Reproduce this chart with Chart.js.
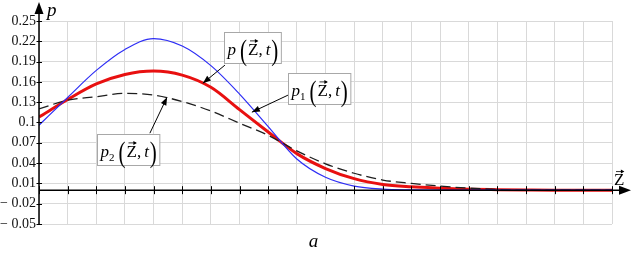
<!DOCTYPE html>
<html>
<head>
<meta charset="utf-8">
<script src="https://cdn.jsdelivr.net/npm/chart.js@4.4.1/dist/chart.umd.min.js"></script>
<style>
    html, body { margin: 0; padding: 0; background: #fff; }
    #wrap { width: 632px; height: 259px; }
</style>
</head>
<body>
<div id="wrap"><canvas id="chart" width="632" height="259"></canvas></div>
<script>
const zValues = [0, 1, 2, 3, 4, 5, 6, 7, 8, 9, 10, 11, 12, 13, 14, 15, 16, 17, 18, 19, 20];
const pValues = [0.108, 0.134, 0.157, 0.171, 0.176, 0.170, 0.152, 0.119, 0.086, 0.054, 0.032, 0.017, 0.0085, 0.005, 0.003, 0.0015, 0.0008, 0.0003, 0, 0, 0];
const p1Values = [0.096, 0.137, 0.177, 0.208, 0.224, 0.213, 0.184, 0.142, 0.094, 0.046, 0.019, 0.006, 0.0015, 0.0004, 0, 0, 0, 0, 0, 0, 0];
const p2Values = [0.120, 0.133, 0.138, 0.143, 0.1405, 0.131, 0.117, 0.099, 0.081, 0.058, 0.039, 0.025, 0.015, 0.010, 0.006, 0.003, 0.001, 0, 0, 0, 0];
const yTicks = [-0.05, -0.02, 0.01, 0.04, 0.07, 0.1, 0.13, 0.16, 0.19, 0.22, 0.25];
const yTickLabels = ['\u2212 0.05', '\u2212 0.02', '0.01', '0.04', '0.07', '0.1', '0.13', '0.16', '0.19', '0.22', '0.25'];

// call-out boxes: top-left corner, arrow start and arrow tip, in data units
const notes = [
    { sub: '', box: [6.46, 0.2335], from: [6.49, 0.1848], to: [5.72, 0.158] },
    { sub: '1', box: [8.69, 0.1729], from: [8.69, 0.1404], to: [7.43, 0.1153] },
    { sub: '2', box: [2.02, 0.0828], from: [3.87, 0.0842], to: [4.47, 0.1374] }
];

const SERIF = "'Liberation Serif', 'DejaVu Serif', serif";

function toPoints(values) {
    return zValues.map((z, i) => ({ x: z, y: values[i] }));
}

function arrowHead(ctx, fx, fy, tx, ty, len, half) {
    const a = Math.atan2(ty - fy, tx - fx);
    ctx.beginPath();
    ctx.moveTo(tx, ty);
    ctx.lineTo(tx - len * Math.cos(a) + half * Math.sin(a), ty - len * Math.sin(a) - half * Math.cos(a));
    ctx.lineTo(tx - len * Math.cos(a) - half * Math.sin(a), ty - len * Math.sin(a) + half * Math.cos(a));
    ctx.closePath();
    ctx.fill();
}

function vecZ(ctx, x, base, size, draw) {
    ctx.font = `${size}px ${SERIF}`;
    const w = ctx.measureText('Z').width;
    if (draw) {
        ctx.fillText('Z', x, base);
        const y = base - size * 0.8;
        ctx.lineWidth = 0.8;
        ctx.beginPath();
        ctx.moveTo(x + 2, y);
        ctx.lineTo(x + w - 1, y);
        ctx.stroke();
        arrowHead(ctx, x, y, x + w, y, 3.5, 2);
    }
    return w;
}

// tall thin bracket, like a LaTeX \left( \right)
function bracket(ctx, ch, x, base, draw) {
    ctx.font = `21px ${SERIF}`;
    const w = ctx.measureText(ch).width;
    if (draw) {
        ctx.save();
        ctx.translate(x, base + 5);
        ctx.scale(1, 1.45);
        ctx.fillText(ch, 0, 0);
        ctx.restore();
    }
    return w;
}

// p_k ( Z, t ) ; returns the width
function formula(ctx, x, base, sub, draw) {
    let cx = x;
    const put = (txt, font, dy) => {
        ctx.font = font;
        if (draw) ctx.fillText(txt, cx, base + (dy || 0));
        cx += ctx.measureText(txt).width;
    };
    put('p', `italic 17px ${SERIF}`);
    if (sub) put(sub, `11px ${SERIF}`, 4);
    cx += 4;
    cx += bracket(ctx, '(', cx, base, draw) + 1;
    cx += vecZ(ctx, cx, base, 17, draw);
    put(',', `17px ${SERIF}`);
    cx += 3;
    put('t', `italic 17px ${SERIF}`);
    cx += 1;
    cx += bracket(ctx, ')', cx, base, draw);
    return cx - x;
}

const decorPlugin = {
    id: 'decor',
    afterDatasetsDraw(chart) {
        const ctx = chart.ctx;
        const xs = chart.scales.x;
        const ys = chart.scales.y;
        const x0 = xs.getPixelForValue(0);
        const y0 = ys.getPixelForValue(0);
        const area = chart.chartArea;

        ctx.save();
        ctx.strokeStyle = '#000';
        ctx.fillStyle = '#000';

        // axes with arrows
        ctx.lineWidth = 1.5;
        ctx.beginPath();
        ctx.moveTo(x0, area.bottom);
        ctx.lineTo(x0, 8);
        ctx.moveTo(x0, y0);
        ctx.lineTo(chart.width - 8, y0);
        ctx.stroke();
        arrowHead(ctx, x0, area.bottom, x0, 2, 12, 4.5);
        arrowHead(ctx, x0, y0, chart.width - 1, y0, 12, 4.5);

        ctx.lineWidth = 1;
        ctx.beginPath();
        zValues.forEach(z => {
            const px = Math.round(xs.getPixelForValue(z)) + 0.5;
            ctx.moveTo(px, y0 - 4);
            ctx.lineTo(px, y0 + 4);
        });
        yTicks.forEach(v => {
            const py = Math.round(ys.getPixelForValue(v)) + 0.5;
            ctx.moveTo(x0 - 2.5, py);
            ctx.lineTo(x0 + 3, py);
        });
        ctx.stroke();

        // axis names
        ctx.textAlign = 'left';
        ctx.textBaseline = 'alphabetic';
        ctx.font = `italic 19px ${SERIF}`;
        ctx.fillText('p', x0 + 8, 16);
        vecZ(ctx, area.right + 2, y0 - 5, 17, true);
        ctx.textAlign = 'center';
        ctx.font = `italic 19px ${SERIF}`;
        ctx.fillText('a', (area.left + area.right) / 2 - 12, 247);

        // call-outs
        ctx.textAlign = 'left';
        notes.forEach(n => {
            const bx = Math.round(xs.getPixelForValue(n.box[0])) + 0.5;
            const by = Math.round(ys.getPixelForValue(n.box[1])) + 0.5;
            const w = formula(ctx, 0, 0, n.sub, false) + 6;
            const h = 31;

            ctx.lineWidth = 1;
            ctx.strokeStyle = '#000';
            const fx = xs.getPixelForValue(n.from[0]);
            const fy = ys.getPixelForValue(n.from[1]);
            const tx = xs.getPixelForValue(n.to[0]);
            const ty = ys.getPixelForValue(n.to[1]);
            ctx.beginPath();
            ctx.moveTo(fx, fy);
            ctx.lineTo(tx, ty);
            ctx.stroke();
            arrowHead(ctx, fx, fy, tx, ty, 8, 3);

            ctx.fillStyle = '#fff';
            ctx.fillRect(bx, by, w, h);
            ctx.strokeStyle = '#a8a8a8';
            ctx.strokeRect(bx, by, w, h);
            ctx.fillStyle = '#000';
            ctx.strokeStyle = '#000';
            formula(ctx, bx + 3, by + 22, n.sub, true);
        });
        ctx.restore();
    }
};

document.addEventListener('DOMContentLoaded', () => {
    const canvas = document.getElementById('chart');

    new Chart(canvas, {
        type: 'line',
        data: {
            datasets: [
                {
                    label: 'p1',
                    data: toPoints(p1Values),
                    borderColor: 'rgb(45, 45, 245)',
                    borderWidth: 1.2,
                    pointRadius: 0,
                    cubicInterpolationMode: 'monotone',
                    fill: false
                },
                {
                    label: 'p2',
                    data: toPoints(p2Values),
                    borderColor: 'rgb(30, 30, 30)',
                    borderWidth: 1.3,
                    borderDash: [10, 5],
                    pointRadius: 0,
                    cubicInterpolationMode: 'monotone',
                    fill: false
                },
                {
                    label: 'p',
                    data: toPoints(pValues),
                    borderColor: 'rgb(232, 16, 16)',
                    borderWidth: 3,
                    pointRadius: 0,
                    cubicInterpolationMode: 'monotone',
                    fill: false
                }
            ]
        },
        options: {
            responsive: false,
            animation: false,
            layout: {
                padding: { top: 21, right: 20, bottom: 35, left: 0 }
            },
            plugins: {
                legend: { display: false },
                tooltip: { enabled: false }
            },
            scales: {
                x: {
                    type: 'linear',
                    min: 0,
                    max: 20,
                    afterBuildTicks: scale => {
                        scale.ticks = zValues.map(v => ({ value: v }));
                    },
                    afterFit: scale => {
                        scale.height = 0;
                    },
                    ticks: { display: false, autoSkip: false },
                    grid: { color: '#d9d9d9', drawTicks: false },
                    border: { display: false }
                },
                y: {
                    type: 'linear',
                    min: -0.05,
                    max: 0.25,
                    afterBuildTicks: scale => {
                        scale.ticks = yTicks.map(v => ({ value: v }));
                    },
                    afterFit: scale => {
                        scale.width = 39;
                    },
                    ticks: {
                        autoSkip: false,
                        padding: 3,
                        color: '#111',
                        font: { family: SERIF, size: 14 },
                        callback: (value, index) => yTickLabels[index]
                    },
                    grid: { color: '#d9d9d9', drawTicks: false },
                    border: { display: false }
                }
            }
        },
        plugins: [decorPlugin]
    });
});
</script>
</body>
</html>
